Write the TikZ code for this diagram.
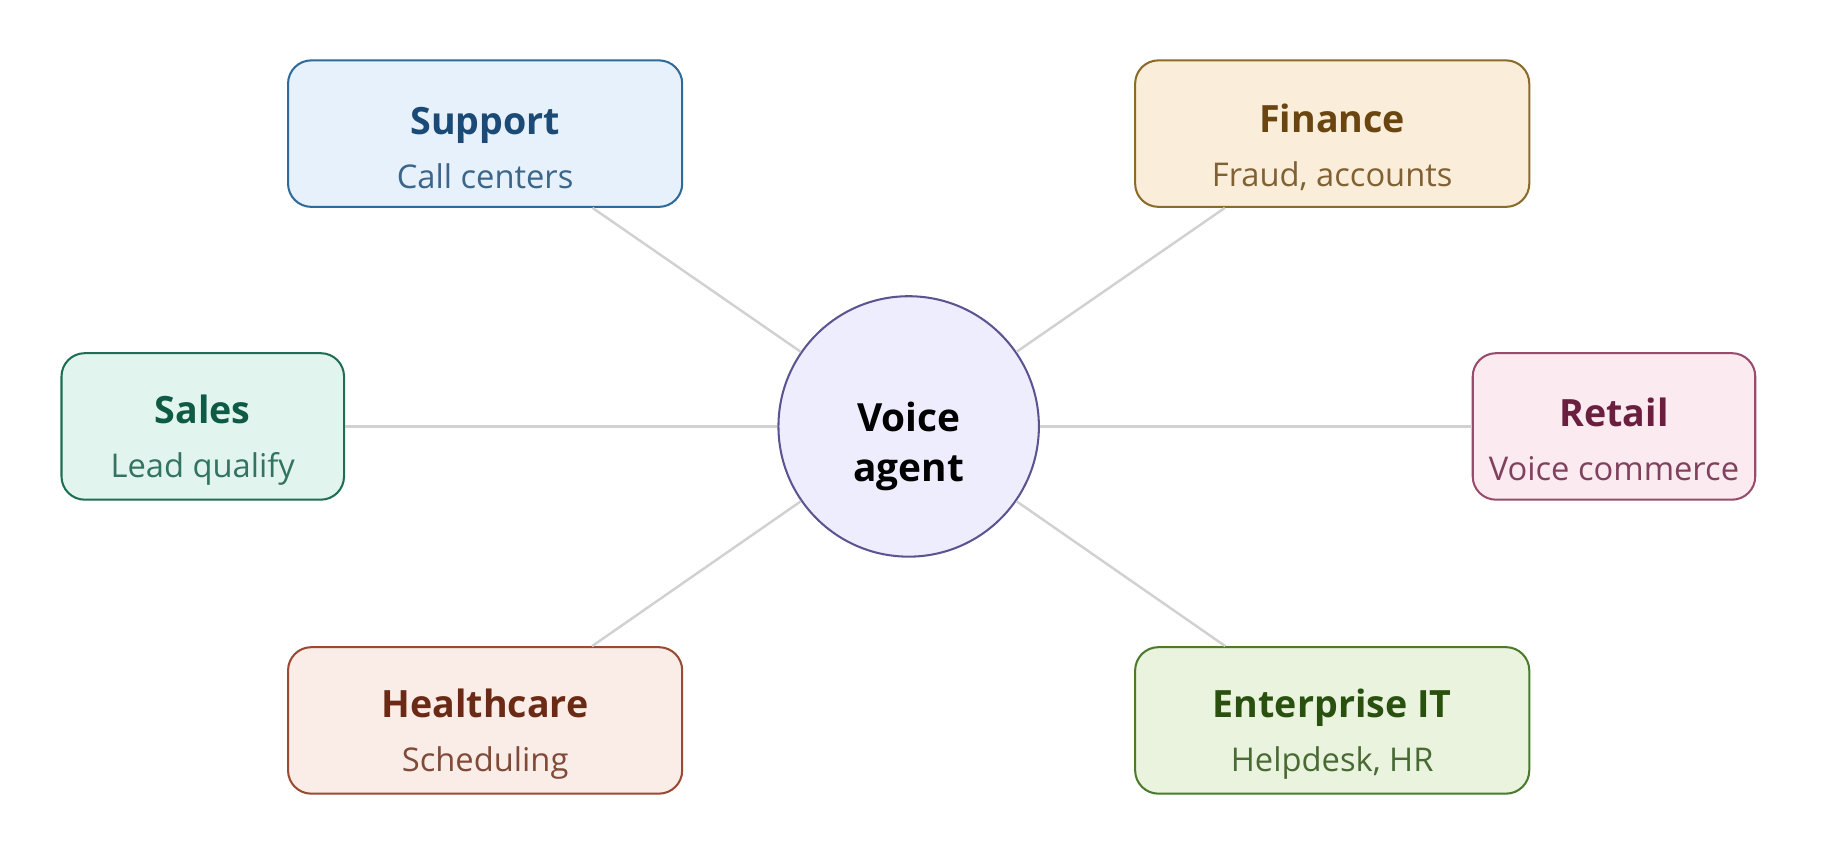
\documentclass[tikz,border=0pt]{standalone}
\usepackage{fontspec}
\setmainfont{Open Sans}
\definecolor{cS}{HTML}{1A4A75}\definecolor{cF}{HTML}{6A4510}\definecolor{cA}{HTML}{0F5A45}
\definecolor{cR}{HTML}{6A1F3F}\definecolor{cH}{HTML}{6A2A15}\definecolor{cE}{HTML}{2A5010}
\definecolor{bS}{HTML}{2E6A9A}\definecolor{fS}{HTML}{E6F1FB}
\definecolor{bF}{HTML}{8B6A2A}\definecolor{fF}{HTML}{FAEEDA}
\definecolor{bA}{HTML}{1D6E55}\definecolor{fA}{HTML}{E1F5EE}
\definecolor{bR}{HTML}{9A4A6A}\definecolor{fR}{HTML}{FBEAF0}
\definecolor{bH}{HTML}{9A4A30}\definecolor{fH}{HTML}{FAECE7}
\definecolor{bE}{HTML}{4A7A2A}\definecolor{fE}{HTML}{EAF3DE}
\definecolor{bC}{HTML}{5A5490}\definecolor{fC}{HTML}{EEEDFE}
\newcommand{\lbl}[3]{{\fontsize{9.2}{12}\selectfont\bfseries\color{#1}\rule{0pt}{13.5pt}#2}\\[1.2pt]{\fontsize{8}{12}\selectfont\color{#1!85!white}#3}}
\begin{document}
\begin{tikzpicture}[x=0.01cm,y=-0.01cm,
 box/.style={draw, line width=0.5pt, rounded corners=0.2cm, minimum height=1.26cm, align=center, inner sep=0pt},
 wide/.style={box, minimum width=3.39cm},
 narrow/.style={box, minimum width=2.43cm},
 link/.style={draw=black!18, line width=0.6pt}]
\useasboundingbox (0,0) rectangle (1568,734);
\node[circle, draw=bC, fill=fC, minimum size=2.24cm, inner sep=0pt, line width=0.5pt, align=center, font=\fontsize{9.5}{12}\selectfont\bfseries] (c) at (782,367) {\rule{0pt}{17pt}Voice\\agent};
\node[wide, draw=bS, fill=fS] (sup) at (417.5,115) {\lbl{cS}{Support}{Call centers}};
\node[wide, draw=bF, fill=fF] (fin) at (1146.5,115) {\lbl{cF}{Finance}{Fraud, accounts}};
\node[narrow, draw=bA, fill=fA] (sal) at (174.5,367) {\lbl{cA}{Sales}{Lead qualify}};
\node[narrow, draw=bR, fill=fR] (ret) at (1389,367) {\lbl{cR}{Retail}{Voice commerce}};
\node[wide, draw=bH, fill=fH] (hea) at (417.5,620) {\lbl{cH}{Healthcare}{Scheduling}};
\node[wide, draw=bE, fill=fE] (ent) at (1146.5,620) {\lbl{cE}{Enterprise IT}{Helpdesk, HR}};
\foreach \n in {sup,fin,sal,ret,hea,ent} \path[link] (\n) -- (c);
\end{tikzpicture}
\end{document}
